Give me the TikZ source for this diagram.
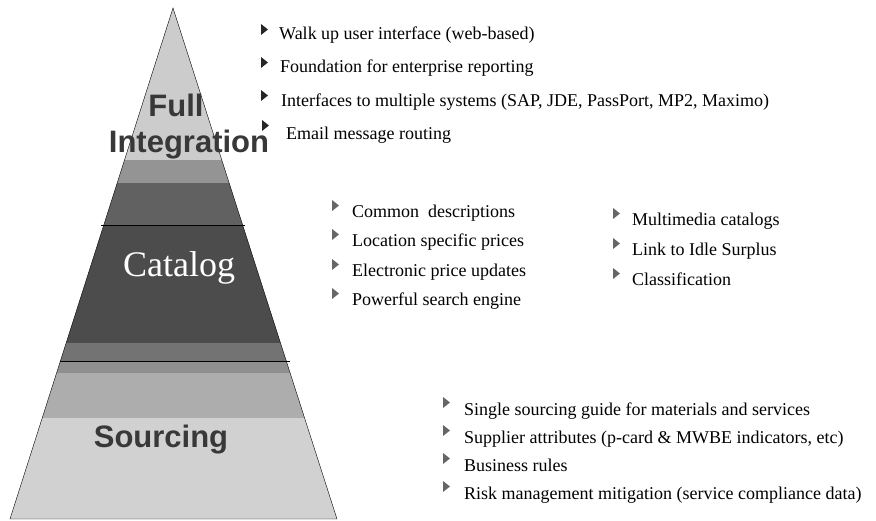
\documentclass[tikz,border=0pt]{standalone}
\usepackage{fontspec}
\setmainfont{Liberation Serif}
\newfontfamily\arialfont{Liberation Sans}
\begin{document}
\begin{tikzpicture}[x=1pt,y=-1pt,
  bul/.style={fill=black!85},
  bulb/.style={fill=black!60},
  item/.style={anchor=base west,inner sep=0pt,font=\fontsize{18}{20}\selectfont},
  bigsans/.style={anchor=base,inner sep=0pt,font=\arialfont\bfseries\fontsize{31}{34}\selectfont,text=black!78},
]
\useasboundingbox (0,0) rectangle (876,521);
% pyramid
\coordinate (apex) at (173,8);
\coordinate (bl) at (10,519);
\coordinate (br) at (337,519);
\begin{scope}
  \clip (apex) -- (br) -- (bl) -- cycle;
  \fill[black!20] (0,0) rectangle (876,160);
  \fill[black!42] (0,160) rectangle (876,183);
  \fill[black!62] (0,183) rectangle (876,225);
  \fill[black!70] (0,225) rectangle (876,343);
  \fill[black!55] (0,343) rectangle (876,361);
  \fill[black!44] (0,361) rectangle (876,373);
  \fill[black!32] (0,373) rectangle (876,418);
  \fill[black!18] (0,418) rectangle (876,519);
\end{scope}
\coordinate (l1) at (101,225); \coordinate (r1) at (245,225);
\coordinate (l2) at (60,361);  \coordinate (r2) at (290,361);
\draw[thin] (l1) -- (r1);
\draw[thin] (l2) -- (r2);
\draw[thin] (apex) -- (br) -- (bl) -- cycle;
% tier labels
\node[bigsans] (full) at (176,117) {Full};
\node[bigsans] (integ) at (189,153) {Integration};
\node[anchor=base,inner sep=0pt,text=white,font=\fontsize{36}{40}\selectfont] (cat) at (179,277) {Catalog};
\node[bigsans] (src) at (161,447) {Sourcing};
% top group
\fill[bul] (261,24) -- (268,29.5) -- (261,35) -- cycle;
\node[item] (t1) at (279,40) {Walk up user interface (web-based)};
\fill[bul] (261,57) -- (268,62.5) -- (261,68) -- cycle;
\node[item] (t2) at (280,73) {Foundation for enterprise reporting};
\fill[bul] (261,90) -- (268,95.5) -- (261,101) -- cycle;
\node[item] (t3) at (281,107) {Interfaces to multiple systems (SAP, JDE, PassPort, MP2, Maximo)};
\fill[bul] (262,120) -- (269,125.5) -- (262,131) -- cycle;
\node[item] (t4) at (286,140) {Email message routing};
% catalog group
\fill[bulb] (332,200) -- (339,205.5) -- (332,211) -- cycle;
\node[item] (c1) at (352,218) {Common\ \ descriptions};
\fill[bulb] (332,229) -- (339,234.5) -- (332,240) -- cycle;
\node[item] (c2) at (352,247) {Location specific prices};
\fill[bulb] (332,259) -- (339,264.5) -- (332,270) -- cycle;
\node[item] (c3) at (352,277) {Electronic price updates};
\fill[bulb] (332,288) -- (339,293.5) -- (332,299) -- cycle;
\node[item] (c4) at (352,306) {Powerful search engine};
\fill[bulb] (613,208) -- (620,213.5) -- (613,219) -- cycle;
\node[item] (d1) at (632,226) {Multimedia catalogs};
\fill[bulb] (613,238) -- (620,243.5) -- (613,249) -- cycle;
\node[item] (d2) at (632,256) {Link to Idle Surplus};
\fill[bulb] (613,268) -- (620,273.5) -- (613,279) -- cycle;
\node[item] (d3) at (632,286) {Classification};
% sourcing group
\fill[bulb] (443,397) -- (450,402.5) -- (443,408) -- cycle;
\node[item] (s1) at (464,415) {Single sourcing guide for materials and services};
\fill[bulb] (443,425) -- (450,430.5) -- (443,436) -- cycle;
\node[item] (s2) at (464,443) {Supplier attributes (p-card \& MWBE indicators, etc)};
\fill[bulb] (443,453) -- (450,458.5) -- (443,464) -- cycle;
\node[item] (s3) at (464,471) {Business rules};
\fill[bulb] (443,481) -- (450,486.5) -- (443,492) -- cycle;
\node[item] (s4) at (464,499) {Risk management mitigation (service compliance data)};
\end{tikzpicture}
\end{document}
